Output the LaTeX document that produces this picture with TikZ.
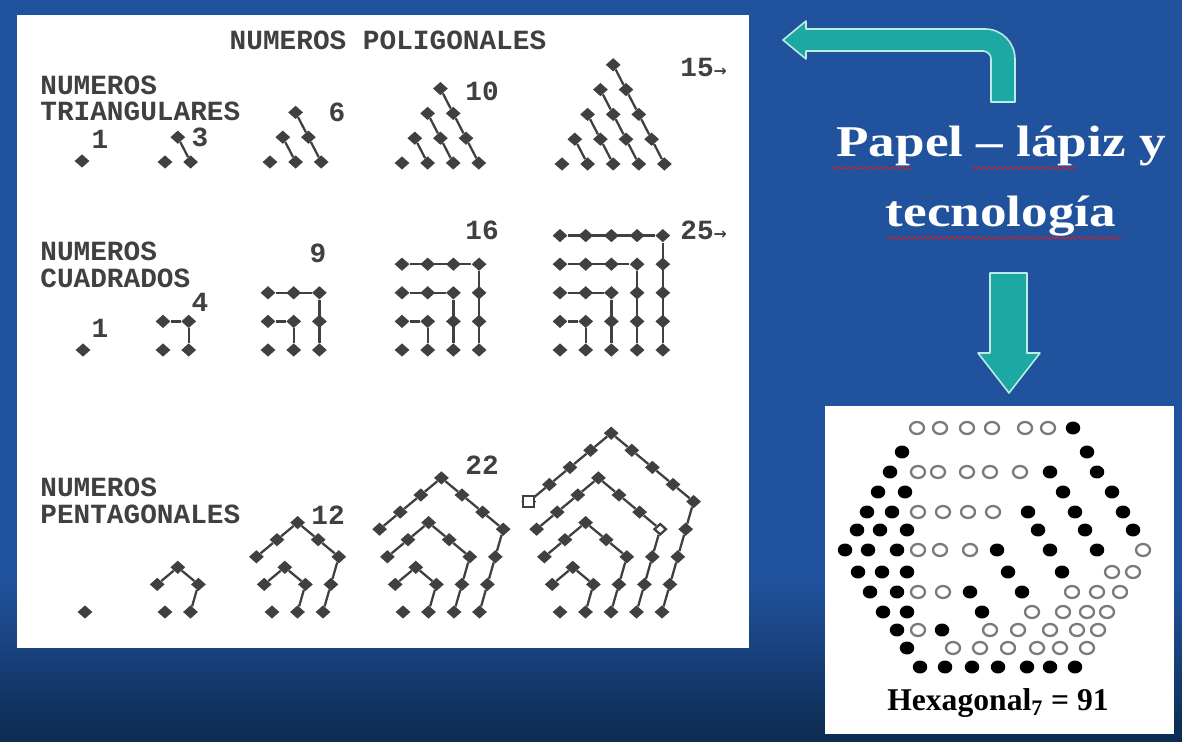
\documentclass[tikz,border=0pt]{standalone}
\usepackage{fontspec}
\usepackage{graphicx}
\setmainfont{Liberation Serif}
\newfontfamily\dotfont{Liberation Mono}
\newfontfamily\arrowfont{DejaVu Sans}
\usetikzlibrary{shapes.geometric,decorations.pathmorphing}
\definecolor{bgblue}{HTML}{21529E}
\definecolor{bgnavy}{HTML}{0C2B50}
\definecolor{arrowteal}{HTML}{1CA9A3}
\definecolor{arrowrim}{HTML}{BDEBE6}
\definecolor{ink}{HTML}{404040}
\definecolor{ringgray}{HTML}{7A7A7A}
\definecolor{spellred}{HTML}{D02020}

\tikzset{
  gdot/.style={diamond,fill=ink,inner sep=0pt,minimum width=0.3cm,minimum height=0.27cm},
  link/.style={draw=ink,line width=1.3pt},
  lbl/.style={font=\dotfont\bfseries\fontsize{15.8}{14.2}\selectfont,text=ink,inner sep=0pt},
  hfill/.style={ellipse,fill=black,inner sep=0pt,minimum width=0.29cm,minimum height=0.26cm},
  hring/.style={ellipse,draw=ringgray,line width=1.3pt,fill=white,inner sep=0pt,minimum width=0.28cm,minimum height=0.24cm},
  bigarrow/.style={fill=arrowteal,draw=arrowrim,line width=0.9pt,line join=round},
  squiggle/.style={spellred,line width=0.5pt,decorate,decoration={snake,amplitude=0.7pt,segment length=3pt}}
}

\begin{document}
\begin{tikzpicture}[x=0.02cm,y=-0.02cm]
\useasboundingbox (0,0) rectangle (1182,742);
% slide background
\fill[bgblue] (0,0) rectangle (1182,742);
\shade[top color=bgblue,bottom color=bgnavy] (0,580) rectangle (1182,742);
\fill[white] (17,15) rectangle (749,648);
\fill[white] (825,406) rectangle (1174,734);

% left panel: headings
\node[lbl] (title) at (388,40) {NUMEROS POLIGONALES};
\node[lbl,anchor=west] (trilbla) at (40,85) {NUMEROS};
\node[lbl,anchor=west] (trilblb) at (40,111) {TRIANGULARES};
\node[lbl,anchor=west] (sqlbla) at (40,251) {NUMEROS};
\node[lbl,anchor=west] (sqlblb) at (40,278) {CUADRADOS};
\node[lbl,anchor=west] (pentlbla) at (40,487) {NUMEROS};
\node[lbl,anchor=west] (pentlblb) at (40,514) {PENTAGONALES};

% triangular numbers
\foreach \k/\bx/\by in {1/82/161,2/165/162,3/270/162,4/402/163,5/562/164}{
  \pgfmathtruncatemacro\kk{\k-1}
  \foreach \r in {0,...,\kk}{
    \pgfmathtruncatemacro\cmax{\k-1-\r}
    \foreach \c in {0,...,\cmax}{
      \node[gdot] (t\k-\r-\c) at (\bx+\r*12.8+\c*25.6,\by-\r*24.8) {};
      \ifnum\r>0
        \pgfmathtruncatemacro\rb{\r-1}
        \pgfmathtruncatemacro\cb{\c+1}
        \draw[link] (t\k-\r-\c) -- (t\k-\rb-\cb);
      \fi
    }
  }
}
\node[lbl] (tn1) at (100,139) {1};
\node[lbl] (tn3) at (200,137) {3};
\node[lbl] (tn6) at (337,112) {6};
\node[lbl] (tn10) at (482,91) {10};
\node[lbl,anchor=west] (tn15) at (680,67) {15{\arrowfont\fontsize{9}{9}\selectfont →}};

% square numbers
\foreach \k/\bx in {1/83,2/163,3/268,4/402,5/560}{
  \pgfmathtruncatemacro\kk{\k-1}
  \foreach \i in {0,...,\kk}{
    \foreach \j in {0,...,\kk}{
      \node[gdot] (s\k-\i-\j) at (\bx+\i*25.7,350-\j*28.6) {};
    }
  }
  \ifnum\kk>0
    \foreach \g in {1,...,\kk}{
      \draw[link] (s\k-0-\g) -- (s\k-\g-\g) -- (s\k-\g-0);
    }
  \fi
}
\node[lbl] (sn1) at (100,328) {1};
\node[lbl] (sn4) at (200,302) {4};
\node[lbl] (sn9) at (318,253) {9};
\node[lbl] (sn16) at (482,230) {16};
\node[lbl,anchor=west] (sn25) at (680,230) {25{\arrowfont\fontsize{9}{9}\selectfont →}};

% pentagonal numbers
\foreach \k/\ox in {1/85,2/165,3/272,4/403,5/560}{
  \node[gdot] (p\k-0-0) at (\ox,612) {};
  \pgfmathtruncatemacro\kk{\k-1}
  \ifnum\kk>0
  \foreach \s in {1,...,\kk}{
    \pgfmathtruncatemacro\nmax{3*\s}
    \foreach \n in {0,...,\nmax}{
      \pgfmathsetmacro\a{min(\n,\s)}
      \pgfmathsetmacro\b{min(max(\n-\s,0),\s)}
      \pgfmathsetmacro\c{max(\n-2*\s,0)}
      \node[gdot] (p\k-\s-\n) at ({\ox+\s*25.5+\a*7.9-(\b+\c)*20.6},{612-\a*27.6-\b*17.1+\c*17.1}) {};
      \ifnum\n>0
        \pgfmathtruncatemacro\prev{\n-1}
        \draw[link] (p\k-\s-\prev) -- (p\k-\s-\n);
      \fi
    }
  }
  \fi
}
\node[rectangle,draw=ink,fill=white,line width=1pt,inner sep=0pt,minimum size=0.22cm] (hole1) at (p5-4-12) {};
\node[gdot,draw=ink,fill=white,line width=1.2pt,minimum width=0.24cm,minimum height=0.22cm] (hole2) at (p5-3-3) {};
\node[lbl] (pn12) at (328,515) {12};
\node[lbl] (pn22) at (482,465) {22};

% arrows
\path[bigarrow] (1015,102) -- (1015,59) .. controls (1015,42.4) and (1001.6,29) .. (985,29)
  -- (806,29) -- (806,21) -- (783,40) -- (806,59) -- (806,51) -- (983,51)
  .. controls (987.4,51) and (991,54.6) .. (991,59) -- (991,102) -- cycle;
\path[bigarrow] (990,273) -- (1027,273) -- (1027,353) -- (1040,353) -- (1009,393)
  -- (978,353) -- (990,353) -- cycle;

% caption
\node[font=\bfseries\fontsize{25}{39.7}\selectfont,text=white,align=center] (papel) at (1001,181)
  {\scalebox{1.21}[1]{Papel – lápiz y}\\\scalebox{1.21}[1]{tecnología}};
\draw[squiggle] (832,168) -- (912,168);
\draw[squiggle] (972,168) -- (1077,168);
\draw[squiggle] (887,238) -- (1122,238);

% hexagonal number
\foreach \x/\y [count=\i] in {1073/428,902/452,1087/452,890/472,1050/472,1097/472,
  878/492,905/492,1063/492,1112/492,867/512,892/512,1028/512,1075/512,1123/512,
  857/530,880/530,907/530,1038/530,1085/530,1133/530,
  845/550,868/550,897/550,997/550,1050/550,1097/550,
  858/572,882/572,907/572,1008/572,1062/572,870/592,897/592,970/592,1022/592,
  883/612,907/612,982/612,897/630,942/630,907/648,
  920/667,945/667,972/667,998/667,1027/667,1050/667,1075/667}
  {\node[hfill] (hf\i) at (\x,\y) {};}
\foreach \x/\y [count=\i] in {917/428,940/428,967/428,992/428,1025/428,1048/428,
  918/472,938/472,967/472,990/472,1020/472,918/512,943/512,968/512,993/512,
  918/550,940/550,970/550,1143/550,1112/572,1133/572,
  918/592,943/592,1072/592,1097/592,1120/592,1032/612,1063/612,1087/612,1107/612,
  918/630,990/630,1018/630,1050/630,1077/630,1098/630,
  953/648,980/648,1008/648,1037/648,1060/648,1087/648}
  {\node[hring] (hr\i) at (\x,\y) {};}
\node[font=\bfseries\fontsize{18}{20}\selectfont] (hexlbl) at (998,703) {Hexagonal\textsubscript{7} = 91};
\end{tikzpicture}
\end{document}
